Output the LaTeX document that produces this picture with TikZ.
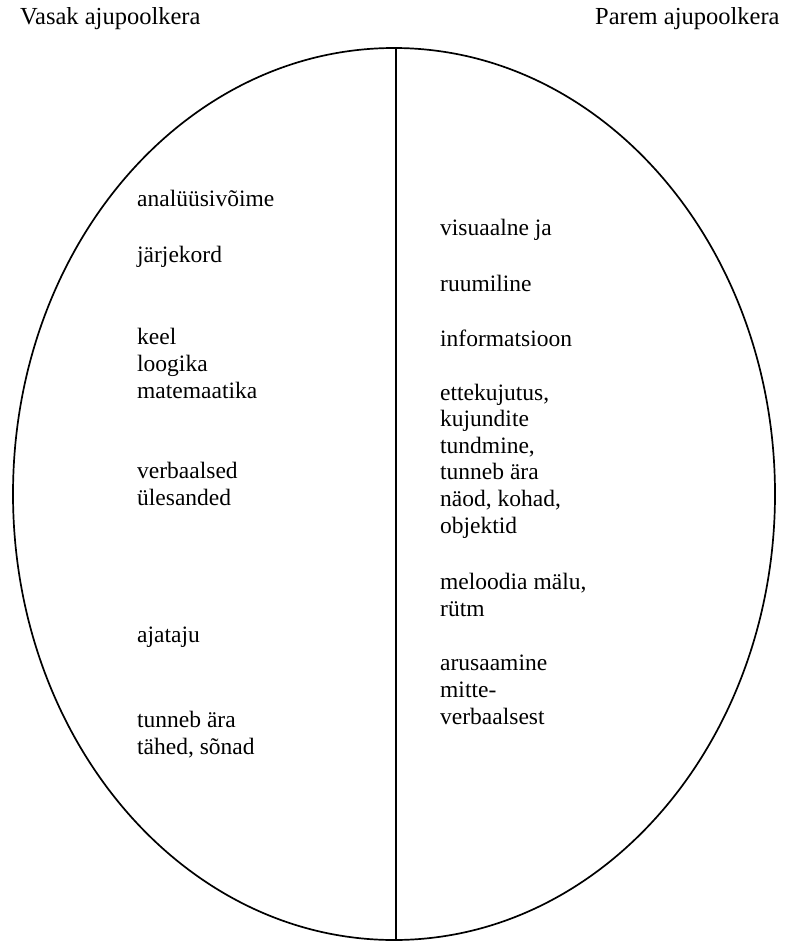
\documentclass[tikz,border=0pt]{standalone}
\usepackage{fontspec}
\setmainfont{Liberation Serif}
\usetikzlibrary{positioning}

\begin{document}
\begin{tikzpicture}[x=1pt,y=-1pt,line join=round,
    font=\fontsize{23.5}{26.6}\selectfont,
    halfTitle/.style={anchor=base west,inner sep=0pt,font=\fontsize{24.5}{27}\selectfont},
    brainItem/.style={anchor=base west,align=left,inner sep=0pt}]
            %--- Page frame ---
            \useasboundingbox (0,0) rectangle (789,941);

            %--- Brain outline and split ---
            \draw[line width=1.7pt] (394,494) ellipse [x radius=381, y radius=446];
            \coordinate (splitTop) at (396,48);
            \coordinate (splitBot) at (396,941);
            \draw[line width=1.4pt] (splitTop) -- (splitBot);

            %--- Headings ---
            \node[halfTitle] (leftTitle)  at (20,25)  {Vasak ajupoolkera};
            \node[halfTitle] (rightTitle) at (595,25) {Parem ajupoolkera};

            %--- Left hemisphere (base = last line) ---
            \node[brainItem] (analyys)  at (137,207) {analüüsivõime};
            \node[brainItem] (jarjekord) at (137,262) {järjekord};
            \node[brainItem] (keel)     at (137,398) {keel\\loogika\\matemaatika};
            \node[brainItem] (verbaal)  at (137,505) {verbaalsed\\ülesanded};
            \node[brainItem] (ajataju)  at (137,642) {ajataju};
            \node[brainItem] (tahed)    at (137,754) {tunneb ära\\tähed, sõnad};

            %--- Right hemisphere ---
            \node[brainItem] (visuaal)  at (440,235) {visuaalne ja};
            \node[brainItem] (ruum)     at (440,291) {ruumiline};
            \node[brainItem] (info)     at (440,346) {informatsioon};
            \node[brainItem] (ette)     at (440,533) {ettekujutus,\\kujundite\\tundmine,\\tunneb ära\\näod, kohad,\\objektid};
            \node[brainItem] (meloodia) at (440,616) {meloodia mälu,\\rütm};
            \node[brainItem] (arusaam)  at (440,724) {arusaamine\\mitte-\\verbaalsest};
\end{tikzpicture}
\end{document}
